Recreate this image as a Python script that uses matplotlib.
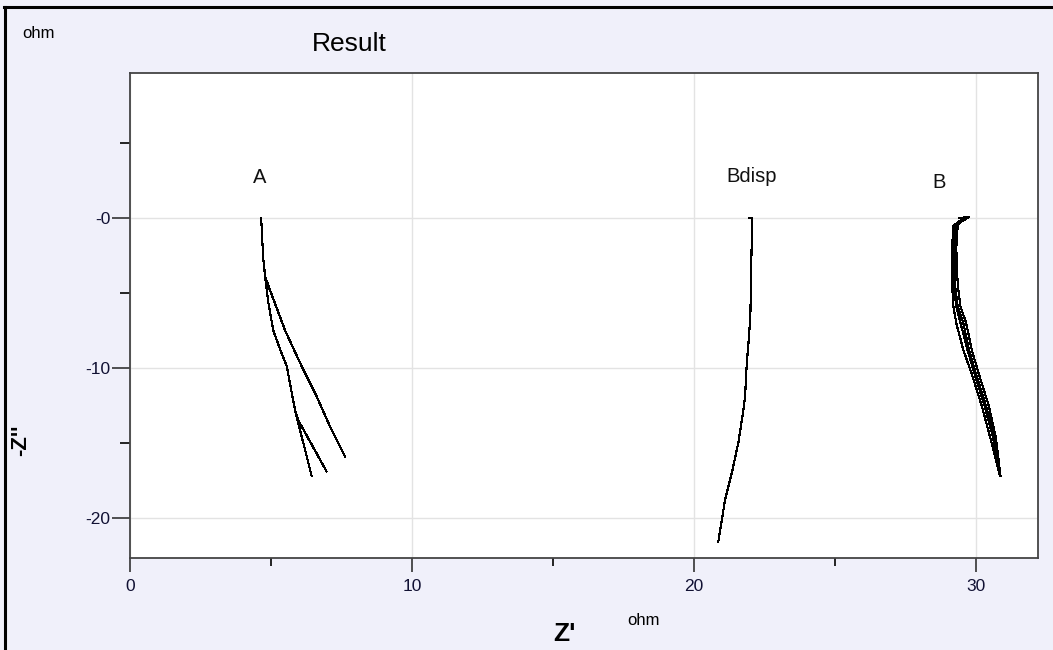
import numpy as np
import matplotlib
matplotlib.use("Agg")
import matplotlib.pyplot as plt
from matplotlib.lines import Line2D
from matplotlib.ticker import MultipleLocator, FixedLocator

plt.rcParams['font.family'] = ['Liberation Sans', 'DejaVu Sans']

# impedance sweeps, Z' and Z'' in ohm (Z'' plotted downward)
a_y = [0, -1.5, -2.8, -3.9]
a_start_x = [4.65, 4.69, 4.73, 4.79]
a1_x = a_start_x + [4.96, 5.5, 6.09, 6.62, 7.09, 7.62]
a1_y = a_y + [-4.8, -7.5, -9.9, -11.9, -13.9, -15.9]
a2_x = a_start_x + [4.9, 5.08, 5.33, 5.56, 5.85, 5.97, 6.97]
a2_y = a_y + [-5.6, -7.5, -8.8, -9.9, -12.8, -13.5, -16.9]
a3_x = a_start_x + [4.9, 5.08, 5.33, 5.56, 5.85, 6.44]
a3_y = a_y + [-5.6, -7.5, -8.8, -9.9, -12.8, -17.2]

bd_x = [21.96, 22.06, 22.0, 21.95, 21.87, 21.81, 21.75, 21.57, 21.34, 21.1, 20.86]
bd_y = [0.0, 0.0, -6.3, -7.9, -9.7, -11.9, -12.8, -15.0, -17.0, -18.8, -21.6]

b_y = [0, 0.05, -0.1, -0.5, -2.0, -4.4, -5.9, -7.0, -8.8, -10.4, -12.5, -14.6, -17.2]
b1_x = [29.45, 29.7, 29.6, 29.25, 29.2, 29.2, 29.3, 29.45, 29.7, 29.95, 30.3, 30.6, 30.87]
b2_x = [29.5, 29.75, 29.55, 29.35, 29.3, 29.35, 29.45, 29.65, 29.85, 30.1, 30.45, 30.7, 30.87]
b3_x = [29.4, 29.65, 29.5, 29.2, 29.15, 29.15, 29.2, 29.3, 29.55, 29.85, 30.2, 30.5, 30.85]
b4_x = [29.45, 29.7, 29.5, 29.3, 29.25, 29.25, 29.35, 29.55, 29.75, 30.0, 30.35, 30.65, 30.86]

labels = ["A", "Bdisp", "B"]
label_x = [4.6, 22.05, 28.7]
label_y = [2.7, 2.75, 2.35]

bg = '#f0f0fa'
fig = plt.figure(figsize=(10.53, 6.5), dpi=100, facecolor=bg)
# window frame: top and left edges
fig.lines.append(Line2D([0.004, 1.0], [0.989, 0.989], transform=fig.transFigure,
                        color='black', linewidth=2.2))
fig.lines.append(Line2D([0.005, 0.005], [0.0, 0.989], transform=fig.transFigure,
                        color='black', linewidth=2.2))
ax = fig.add_axes([0.1235, 0.1415, 0.8623, 0.7462])
ax.set_facecolor('white')

for xs, ys in [(a1_x, a1_y), (a2_x, a2_y), (a3_x, a3_y), (bd_x, bd_y),
               (b1_x, b_y), (b2_x, b_y), (b3_x, b_y), (b4_x, b_y)]:
    ax.plot(xs, ys, color='black', linewidth=0.8, antialiased=False)

for t, x, y in zip(labels, label_x, label_y):
    ax.text(x, y, t, fontsize=14.5, ha='center', va='center', color='#111111')

ax.set_xlim(0, 32.2)
ax.set_ylim(-22.67, 9.67)

ax.xaxis.set_major_locator(MultipleLocator(10))
ax.xaxis.set_minor_locator(MultipleLocator(5))
ax.yaxis.set_major_locator(FixedLocator([0, -10, -20]))
ax.yaxis.set_minor_locator(FixedLocator([5, -5, -15]))
ax.set_yticklabels(['-0', '-10', '-20'])
ax.tick_params(axis='both', which='major', labelsize=12.5, colors='#333333',
               labelcolor='#111133')
ax.tick_params(axis='y', which='major', length=13, width=1.2, pad=1)
ax.tick_params(axis='y', which='minor', length=7, width=1.2)
ax.tick_params(axis='x', which='major', length=10, width=1.2, pad=5)
ax.tick_params(axis='x', which='minor', length=6, width=1.2)
ax.grid(True, which='major', color='#e3e3e3', linewidth=1)
ax.set_axisbelow(True)
for s in ax.spines.values():
    s.set_color('#444444')
    s.set_linewidth(1.3)

fig.text(0.021, 0.949, 'ohm', fontsize=12, ha='left', va='center')
fig.text(0.296, 0.932, 'Result', fontsize=19, ha='left', va='center')
fig.text(0.536, 0.024, "Z'", fontsize=19, fontweight='bold', ha='center', va='center')
fig.text(0.611, 0.046, 'ohm', fontsize=12, ha='center', va='center')
fig.text(0.02, 0.322, "-Z''", fontsize=16, fontweight='bold', rotation=90,
         ha='center', va='center')

fig.savefig('out.png', dpi=100, facecolor=bg)
